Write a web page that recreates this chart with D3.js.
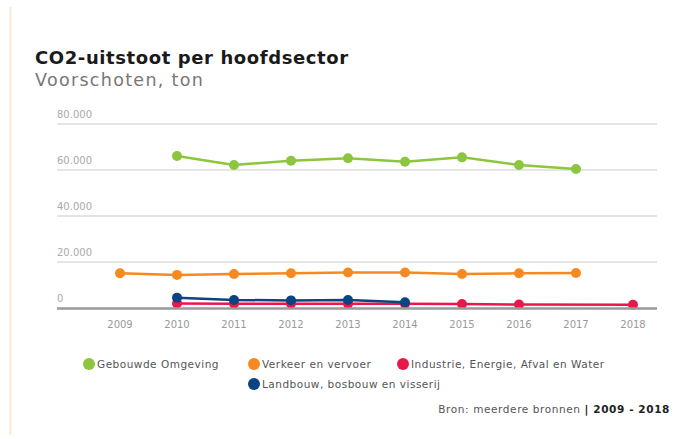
<!DOCTYPE html>
<html>
<head>
<meta charset="utf-8">
<script src="https://cdn.jsdelivr.net/npm/d3@7"></script>
<style>
  body { margin: 0; background: #fff; }
  svg { display: block; font-family: "DejaVu Sans", sans-serif; }
  .title { font-weight: bold; font-size: 18px; letter-spacing: 0.6px; fill: #1a1a1a; }
  .subtitle { font-size: 17.5px; letter-spacing: 1.3px; fill: #777; }
  .ytick { font-size: 10px; fill: #aaa; }
  .xtick { font-size: 10px; fill: #999; }
  .legend text { font-size: 10.5px; letter-spacing: 0.5px; fill: #555; }
  .source { font-size: 10.5px; letter-spacing: 0.6px; fill: #555; }
</style>
</head>
<body>
<script>
// data (ton CO2)
var years = [2009, 2010, 2011, 2012, 2013, 2014, 2015, 2016, 2017, 2018];
var gebouwd   = [null, 66100, 62200, 64000, 65100, 63600, 65500, 62200, 60400, null];
var verkeer   = [15100, 14400, 14800, 15100, 15400, 15400, 14800, 15100, 15200, null];
var industrie = [null, 2000, 1900, 1900, 1800, 1800, 1700, 1500, null, 1400];
var landbouw  = [null, 4500, 3500, 3300, 3500, 2500, null, null, null, null];
var yTicks = [0, 20000, 40000, 60000, 80000];

var seriesNames = ["Gebouwde Omgeving", "Verkeer en vervoer", "Industrie, Energie, Afval en Water", "Landbouw, bosbouw en visserij"];
var seriesColors = ["#8cc63f", "#f7891f", "#e8194a", "#0b4483"];
var seriesValues = [gebouwd, verkeer, industrie, landbouw];

var W = 692, H = 439;
var svg = d3.select("body").append("svg").attr("width", W).attr("height", H);

// faint vertical rule on the left
svg.append("line").attr("x1", 10.5).attr("x2", 10.5).attr("y1", 7).attr("y2", 435)
  .attr("stroke", "#fde8d6").attr("stroke-width", 2);

svg.append("text").attr("class", "title").attr("x", 35).attr("y", 64).text("CO2-uitstoot per hoofdsector");
svg.append("text").attr("class", "subtitle").attr("x", 35).attr("y", 86).text("Voorschoten, ton");

var x = d3.scalePoint().domain(years).range([120, 633]);
var y = d3.scaleLinear().domain([0, 80000]).range([308, 124]);
var nl = d3.formatLocale({decimal: ",", thousands: ".", grouping: [3], currency: ["€", ""]});
var fmt = nl.format(",");

// grid
var grid = svg.append("g");
grid.selectAll("line").data(yTicks.filter(d => d > 0)).enter().append("line")
  .attr("x1", 57).attr("x2", 657)
  .attr("y1", d => y(d)).attr("y2", d => y(d))
  .attr("stroke", "#e5e5e5").attr("stroke-width", 2);
grid.selectAll("text").data(yTicks).enter().append("text")
  .attr("class", "ytick").attr("x", 57).attr("y", d => y(d) - 6)
  .text(d => fmt(d));

// x axis
svg.append("g").selectAll("text").data(years).enter().append("text")
  .attr("class", "xtick").attr("x", d => x(d)).attr("y", 328)
  .attr("text-anchor", "middle").text(d => d);

// series
seriesValues.forEach(function(vals, i) {
  var pts = years.map((yr, j) => ({year: yr, value: vals[j]}))
    .filter(d => d.value != null);
  var line = d3.line().x(d => x(d.year)).y(d => y(d.value));
  var g = svg.append("g");
  g.append("path").datum(pts).attr("d", line)
    .attr("fill", "none").attr("stroke", seriesColors[i]).attr("stroke-width", 2.5);
  g.selectAll("circle").data(pts).enter().append("circle")
    .attr("cx", d => x(d.year)).attr("cy", d => y(d.value)).attr("r", 5)
    .attr("fill", seriesColors[i]);
});

// baseline
svg.append("line").attr("x1", 57).attr("x2", 657).attr("y1", y(0) + 0.5).attr("y2", y(0) + 0.5)
  .attr("stroke", "#999").attr("stroke-width", 2.5);

// legend
var legendPos = [[89, 364], [254, 364], [403, 364], [254, 384]];
var legend = svg.append("g").attr("class", "legend");
seriesNames.forEach(function(name, i) {
  var lg = legend.append("g").attr("transform", "translate(" + legendPos[i][0] + "," + legendPos[i][1] + ")");
  lg.append("circle").attr("r", 6).attr("fill", seriesColors[i]);
  lg.append("text").attr("x", 8).attr("y", 4).text(name);
});

var src = svg.append("text").attr("class", "source").attr("x", 670).attr("y", 413).attr("text-anchor", "end");
src.append("tspan").text("Bron: meerdere bronnen ");
src.append("tspan").attr("font-weight", "bold").attr("fill", "#222").text("| 2009 - 2018");
</script>
</body>
</html>
